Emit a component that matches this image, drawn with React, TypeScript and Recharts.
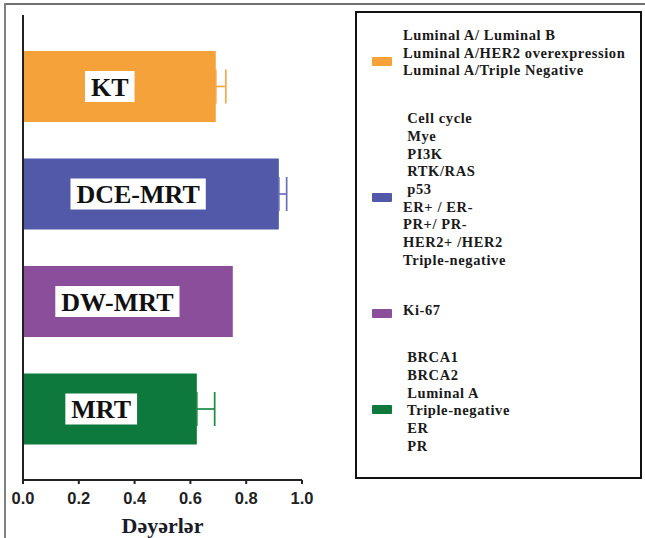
import React from "react";
import { Bar, BarChart, Cell, ErrorBar, LabelList, Legend, XAxis, YAxis } from "recharts";

const categories = ["KT", "DCE-MRT", "DW-MRT", "MRT"];
const values = [0.691, 0.917, 0.752, 0.623];
const errors = [0.036, 0.028, 0, 0.064];
const barColors = ["#F6A23B", "#5259A8", "#8A4E9B", "#0E793D"];
const errorColors = ["#F6A847", "#6A6FBC", "#8A4E9B", "#1B8A45"];
const xTicks = [0, 0.2, 0.4, 0.6, 0.8, 1.0];

const ktMarkers = ["Luminal A/ Luminal B", "Luminal A/HER2 overexpression", "Luminal A/Triple Negative"];
const dceMarkers = [
  " Cell cycle",
  " Mye",
  " PI3K",
  " RTK/RAS",
  " p53",
  "ER+ / ER-",
  "PR+/ PR-",
  "HER2+ /HER2",
  "Triple-negative",
];
const dwMarkers = ["Ki-67"];
const mrtMarkers = [" BRCA1", " BRCA2", " Luminal A", " Triple-negative", " ER", " PR"];
const legendGroups = [ktMarkers, dceMarkers, dwMarkers, mrtMarkers];

const data = categories.map((name, i) => ({ name, value: values[i], err: errors[i] }));

const SERIF = "'Liberation Serif', 'Times New Roman', serif";
const SANS = "'Liberation Sans', Arial, sans-serif";

let measureCtx: CanvasRenderingContext2D | null = null;
function textWidth(text: string, font: string) {
  if (!measureCtx) measureCtx = document.createElement("canvas").getContext("2d");
  if (!measureCtx) return text.length * 14;
  measureCtx.font = font;
  return measureCtx.measureText(text).width;
}

function BarName(props: any) {
  const { x, y, width, height, value } = props;
  const cx = x + width * 0.45;
  const cy = y + height / 2;
  const w = textWidth(String(value), `bold 26px ${SERIF}`) + 12;
  const h = 31;
  return (
    <g>
      <rect x={cx - w / 2} y={cy - h / 2} width={w} height={h} fill="#fff" />
      <text
        x={cx}
        y={cy}
        dy="0.35em"
        textAnchor="middle"
        fontFamily={SERIF}
        fontWeight="bold"
        fontSize={26}
        fill="#111"
      >
        {value}
      </text>
    </g>
  );
}

function MarkerLegend() {
  const gaps = [0, 30, 33, 29];
  return (
    <div
      style={{
        boxSizing: "border-box",
        width: "100%",
        height: "100%",
        border: "2.5px solid #111",
        paddingTop: 14,
        fontFamily: SERIF,
        fontWeight: "bold",
        fontSize: 14.5,
        letterSpacing: 0.6,
        color: "#1a1a1a",
        textAlign: "left",
      }}
    >
      {legendGroups.map((lines, i) => (
        <div key={i} style={{ display: "flex", alignItems: "center", marginTop: gaps[i] }}>
          <div
            style={{
              width: 20,
              height: 9,
              marginLeft: 15,
              marginRight: 11,
              marginTop: lines.length > 1 ? 15 : 4,
              background: barColors[i],
              borderRadius: 1,
              flexShrink: 0,
            }}
          />
          <div style={{ lineHeight: "17.7px" }}>
            {lines.map((l) => (
              <div key={l} style={{ whiteSpace: "pre" }}>
                {l}
              </div>
            ))}
          </div>
        </div>
      ))}
    </div>
  );
}

export default function App() {
  return (
    <div
      style={{
        position: "absolute",
        left: 0,
        top: 0,
        width: 645,
        height: 538,
        background: "#fff",
        overflow: "hidden",
      }}
    >
      <div style={{ position: "absolute", left: 4, top: 3, width: 641, height: 2, background: "#707070" }} />
      <div style={{ position: "absolute", left: 4, top: 3, width: 2, height: 535, background: "#808080" }} />
      <BarChart
        width={645}
        height={538}
        data={data}
        layout="vertical"
        margin={{ top: 15, right: 343, bottom: 0, left: 15 }}
      >
        <XAxis
          type="number"
          domain={[0, 1]}
          ticks={xTicks}
          tickFormatter={(v: number) => v.toFixed(1)}
          axisLine={{ stroke: "#222", strokeWidth: 2 }}
          tickLine={{ stroke: "#222", strokeWidth: 2 }}
          tickSize={4}
          tickMargin={8}
          tick={{ fontFamily: SANS, fontWeight: "bold", fontSize: 16.5, fill: "#222" }}
          height={58}
          label={{
            value: "Dəyərlər",
            position: "insideBottom",
            offset: 5,
            fontFamily: SERIF,
            fontWeight: "bold",
            fontSize: 22,
            fill: "#1b1b2a",
          }}
        />
        <YAxis
          type="category"
          dataKey="name"
          width={8}
          tick={false}
          tickSize={2}
          axisLine={{ stroke: "#222", strokeWidth: 2 }}
          tickLine={{ stroke: "#222", strokeWidth: 1.5 }}
          padding={{ top: 18, bottom: 17 }}
        />
        <Legend
          layout="horizontal"
          verticalAlign="middle"
          align="center"
          wrapperStyle={{ left: 355, top: 11, width: 287, height: 468 }}
          content={() => <MarkerLegend />}
        />
        <Bar dataKey="value" barSize={71} isAnimationActive={false}>
          {data.map((d, i) => (
            <Cell key={d.name} fill={barColors[i]} />
          ))}
          {categories.map((c, i) => (
            <ErrorBar
              key={c}
              dataKey={(d: any) => (d.name === c && d.err > 0 ? [0, d.err] : null)}
              direction="x"
              width={17}
              stroke={errorColors[i]}
              strokeWidth={1.7}
              isAnimationActive={false}
            />
          ))}
          <LabelList dataKey="name" content={BarName} />
        </Bar>
      </BarChart>
    </div>
  );
}
